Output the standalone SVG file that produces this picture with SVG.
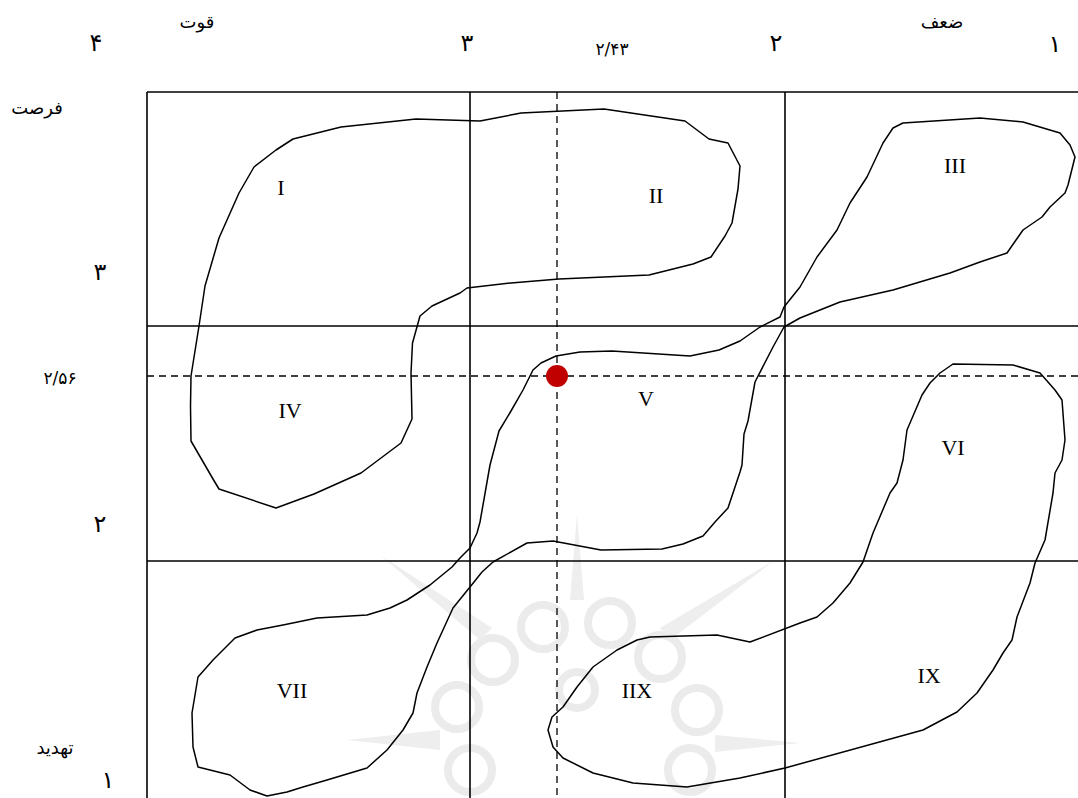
<svg xmlns="http://www.w3.org/2000/svg" width="1078" height="798" viewBox="0 0 1078 798">
<style>
.grid{stroke:#000;stroke-width:1.6;fill:none}
.dash{stroke:#000;stroke-width:1.3;fill:none;stroke-dasharray:7 5}
.blob{stroke:#000;stroke-width:1.5;fill:none;stroke-linejoin:round}
.lbl{font-family:"Liberation Serif","Times New Roman",serif;font-size:22px;fill:#000;text-anchor:middle}
.fa{font-family:"DejaVu Sans","Noto Sans",sans-serif;fill:#000;text-anchor:middle}
.wm{fill:none;stroke:#ebebeb;stroke-width:8}
.wms{fill:#eeeeee}
</style>
<rect width="1078" height="798" fill="#fff"/>
<g id="watermark">
<g class="wm">
<circle cx="543" cy="627" r="22"/><circle cx="610" cy="623" r="22"/>
<circle cx="493" cy="660" r="22"/><circle cx="660" cy="657" r="22"/>
<circle cx="457" cy="707" r="22"/><circle cx="697" cy="710" r="22"/>
<circle cx="470" cy="770" r="22"/><circle cx="690" cy="770" r="22"/>
<circle cx="577" cy="690" r="18"/>
</g>
<g class="wms">
<polygon points="570,600 577,515 584,600"/>
<polygon points="440,730 347,740 440,750"/>
<polygon points="715,735 800,743 715,752"/>
<polygon points="480,640 380,555 492,628"/>
<polygon points="670,640 775,560 660,628"/>
</g>
</g>
<g id="grid">
<line class="grid" x1="147" y1="92" x2="1078" y2="92"/>
<line class="grid" x1="147" y1="92" x2="147" y2="798"/>
<line class="grid" x1="470" y1="92" x2="470" y2="798"/>
<line class="grid" x1="785" y1="92" x2="785" y2="798"/>
<line class="grid" x1="147" y1="326" x2="1078" y2="326"/>
<line class="grid" x1="147" y1="561" x2="1078" y2="561"/>
<line class="dash" x1="557" y1="92" x2="557" y2="798"/>
<line class="dash" x1="147" y1="376" x2="1078" y2="376"/>
</g>
<g id="connectors">
<path id="blob-I-II-IV" class="blob" d="M 293 139 L 276 150 L 254 167 L 239 193 L 219 238 L 205 286 L 199 326 L 191 376 L 190.5 406 L 191 441 L 213 479 L 219 489 L 276 508 L 314 494 L 361 473 L 401 443 L 412 419 L 411 373 L 412.5 343 L 420 316 L 432 306 L 460 293 L 467 288 L 511 283 L 559 279 L 649 275 L 693 264 L 711 257 L 725 236 L 732 223 L 738 189 L 740 166 L 728 143 L 709 139 L 685 121 L 604 109 L 521 113 L 480 121 L 416 119 L 341 127 Z"/>
<path id="blob-III-V-VII" class="blob" d="M 903 123 L 980 118 L 1023 122 L 1060 133 L 1070 145 L 1075 157 L 1068 185 L 1065 193 L 1050 207 L 1042 217 L 1023 230 L 1007 253 L 980 262 L 950 273 L 893 290 L 840 302 L 800 318 L 784 327 L 773 347 L 755 382 L 748 421 L 744 434 L 742 465 L 740 472 L 728 508 L 715 522 L 703 536 L 683 544 L 662 549 L 601 550 L 553 541 L 527 543 L 493 562 L 482 572 L 470 587 L 453 608 L 437 643 L 427 667 L 417 693 L 413 713 L 403 730 L 387 750 L 367 768 L 327 780 L 303 787 L 287 792 L 267 796 L 250 790 L 230 775 L 198 767 L 193 747 L 192 713 L 198 677 L 213 660 L 235 638 L 257 630 L 283 625 L 317 618 L 367 615 L 390 608 L 407 600 L 430 585 L 452 567 L 460 558 L 470 548 L 477 533 L 480 522 L 490 465 L 499 431 L 511 411 L 523 390 L 529 378 L 533 370 L 541 363 L 556 356 L 580 352 L 612 351 L 690 356 L 719 350 L 740 341 L 760 327 L 780 317 L 784 307 L 800 287 L 817 257 L 837 230 L 850 203 L 867 177 L 883 143 L 893 128 Z"/>
<path id="blob-VI-IX-IIX" class="blob" d="M 953 364 L 1013 365 L 1040 373 L 1048 382 L 1055 390 L 1062 400 L 1065 440 L 1062 460 L 1055 473 L 1053 493 L 1045 540 L 1035 563 L 1030 583 L 1017 617 L 1012 640 L 1003 653 L 993 670 L 977 693 L 957 712 L 923 730 L 785 768 L 740 778 L 687 787 L 633 783 L 593 773 L 563 758 L 553 747 L 548 730 L 552 717 L 563 707 L 577 687 L 593 667 L 617 650 L 637 640 L 650 637 L 717 635 L 750 642 L 800 623 L 817 617 L 833 603 L 850 583 L 863 562 L 873 533 L 890 493 L 897 483 L 903 460 L 907 430 L 922 395 L 930 383 L 940 373 Z"/>
</g>
<g id="point"><circle cx="557" cy="376" r="11" fill="#c00000"/></g>
<g id="labels">
<text class="lbl" x="281" y="195">I</text>
<text class="lbl" x="656" y="203">II</text>
<text class="lbl" x="955" y="173">III</text>
<text class="lbl" x="290" y="418">IV</text>
<text class="lbl" x="646" y="406">V</text>
<text class="lbl" x="953" y="455">VI</text>
<text class="lbl" x="292" y="698">VII</text>
<text class="lbl" x="637" y="698">IIX</text>
<text class="lbl" x="929" y="683">IX</text>
</g>
<g id="axis-labels">
<text class="fa" x="96" y="51" font-size="24">۴</text>
<text class="fa" x="197" y="28" font-size="18">قوت</text>
<text class="fa" x="467" y="51" font-size="24">۳</text>
<text class="fa" x="612" y="55" font-size="17">۲/۴۳</text>
<text class="fa" x="776" y="51" font-size="24">۲</text>
<text class="fa" x="942" y="28" font-size="18">ضعف</text>
<text class="fa" x="1055" y="52" font-size="24">۱</text>
<text class="fa" x="37" y="114" font-size="18">فرصت</text>
<text class="fa" x="100" y="280" font-size="24">۳</text>
<text class="fa" x="60" y="384" font-size="17">۲/۵۶</text>
<text class="fa" x="100" y="532" font-size="24">۲</text>
<text class="fa" x="55" y="754" font-size="18">تهدید</text>
<text class="fa" x="108" y="788" font-size="24">۱</text>
</g>
</svg>
